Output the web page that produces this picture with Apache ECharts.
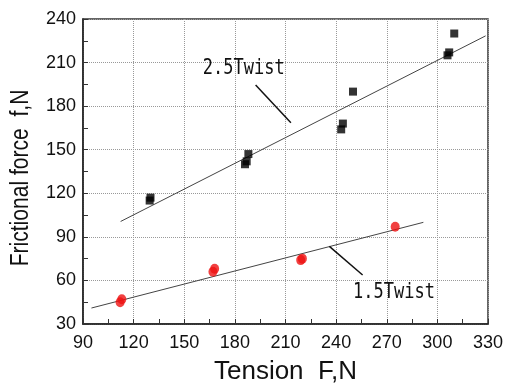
<!DOCTYPE html>
<html>
<head>
<meta charset="utf-8">
<script src="https://cdn.jsdelivr.net/npm/echarts@6/dist/echarts.min.js"></script>
<style>
  html, body { margin: 0; padding: 0; background: #fff; }
  #chart { width: 507px; height: 390px; }
</style>
</head>
<body>
<div id="chart"></div>
<script>
// measured points [tension F, frictional force f]
const twist25Points = [
    [129.5, 115], [130, 117], [186, 140], [187, 142], [188, 147],
    [243, 164], [244, 168], [250, 190], [306, 215], [307, 217], [310, 230]
];
const twist15Points = [
    [112, 45], [113, 47], [167, 66], [168, 68],
    [219, 74], [220, 75], [275, 97]
];
// fitted lines (end points)
const twist25Fit = [[112.3, 100.6], [328.6, 228.4]];
const twist15Fit = [[95, 41], [291.7, 100]];
// annotation leader lines
const twist25Leader = [[192.3, 194.5], [213.2, 168.6]];
const twist15Leader = [[236, 83.4], [255.7, 63.7]];
const annotations = [
    { text: '2.5Twist', at: [161, 205.5] },
    { text: '1.5Twist', at: [250, 51.5] }
];

const chart = echarts.init(document.getElementById('chart'));

const axisFont = { color: '#111', fontSize: 18, fontFamily: 'Liberation Sans, Arial, sans-serif' };

const option = {
    animation: false,
    backgroundColor: '#fff',
    grid: {
        left: 83, right: 19, top: 19, bottom: 63,
        show: true,
        borderColor: '#333',
        borderWidth: 1.5
    },
    xAxis: {
        type: 'value',
        min: 90, max: 330, interval: 30,
        name: 'Tension  F,N',
        nameLocation: 'middle',
        nameGap: 35,
        nameTextStyle: { color: '#111', fontSize: 26, fontFamily: 'Liberation Sans, Arial, sans-serif' },
        axisLine: { lineStyle: { color: '#222', width: 1.5 } },
        axisTick: { inside: true, length: 5, lineStyle: { color: '#333' } },
        minorTick: { show: true, splitNumber: 2, length: 5, lineStyle: { color: '#333' } },
        axisLabel: Object.assign({ margin: 10 }, axisFont),
        splitLine: { show: true, lineStyle: { type: 'dotted', color: '#999', width: 1 } }
    },
    yAxis: {
        type: 'value',
        min: 30, max: 240, interval: 30,
        axisLine: { show: true, lineStyle: { color: '#222', width: 1.5 } },
        axisTick: { show: true, inside: true, length: 5, lineStyle: { color: '#333' } },
        minorTick: { show: true, splitNumber: 2, length: 5, lineStyle: { color: '#333' } },
        axisLabel: Object.assign({ margin: 7 }, axisFont),
        splitLine: { show: true, lineStyle: { type: 'dotted', color: '#999', width: 1 } }
    },
    series: [
        {
            type: 'line', data: twist25Fit, symbol: 'none',
            lineStyle: { color: '#444', width: 1 }, z: 2
        },
        {
            type: 'line', data: twist15Fit, symbol: 'none',
            lineStyle: { color: '#444', width: 1 }, z: 2
        },
        {
            type: 'line', data: twist25Leader, symbol: 'none',
            lineStyle: { color: '#111', width: 1.5 }, z: 2
        },
        {
            type: 'line', data: twist15Leader, symbol: 'none',
            lineStyle: { color: '#111', width: 1.5 }, z: 2
        },
        {
            type: 'scatter', data: twist25Points, symbol: 'rect', symbolSize: 8,
            itemStyle: { color: '#000' }, z: 3
        },
        {
            type: 'scatter', data: twist15Points, symbol: 'circle', symbolSize: [9, 10],
            itemStyle: { color: '#ee1111' }, z: 3
        }
    ]
};

chart.setOption(option);

// texts placed at data positions
const graphics = annotations.map(a => {
    const p = chart.convertToPixel({ gridIndex: 0 }, a.at);
    return {
        type: 'text', x: p[0], y: p[1], scaleY: 1.2,
        style: {
            text: a.text, fill: '#111', fontSize: 17,
            fontFamily: 'DejaVu Sans Mono, monospace',
            verticalAlign: 'middle', align: 'left'
        }
    };
});
// y axis title, narrow like the original
graphics.push({
    type: 'text', x: 21, y: 178, rotation: Math.PI / 2, scaleX: 0.81,
    style: {
        text: 'Frictional force  f,N', fill: '#111', fontSize: 26,
        fontFamily: 'Liberation Sans, Arial, sans-serif',
        align: 'center', verticalAlign: 'middle'
    }
});
chart.setOption({ graphic: graphics });

window.addEventListener('resize', function() {
    chart.resize();
});
</script>
</body>
</html>
